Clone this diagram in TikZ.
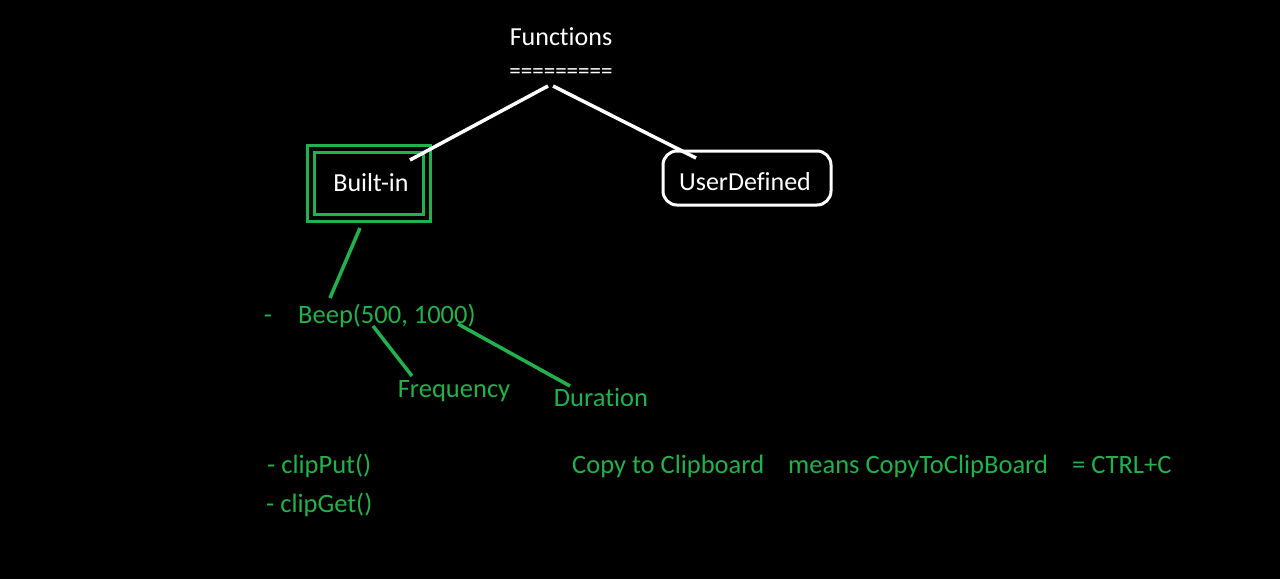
\documentclass[tikz,border=0pt]{standalone}
\usepackage{fontspec}
\setmainfont{Carlito}[Ligatures=CommonOff]
\definecolor{pgreen}{RGB}{34,177,76}
\begin{document}
\begin{tikzpicture}[x=1pt,y=-1pt,
  wtxt/.style={text=white,font=\fontsize{26}{30}\selectfont,inner sep=0pt,anchor=base},
  gtxt/.style={text=pgreen,font=\fontsize{26.5}{30}\selectfont,inner sep=0pt,anchor=base},
  wline/.style={draw=white,line width=3.5pt},
  gline/.style={draw=pgreen,line width=3.5pt}]
\fill[black] (0,0) rectangle (1280,579);
\useasboundingbox (0,0) rectangle (1280,579);
% titles
\node[wtxt] (fun) at (561,45) {Functions};
\node[wtxt,font=\fontsize{23}{26}\selectfont] (eq) at (561,78) {=========};
% built-in double box
\draw[pgreen,line width=3pt] (307,145) rectangle (430,221);
\draw[pgreen,line width=3pt] (314,152) rectangle (423,214);
\node[wtxt] (bi) at (371,191) {Built-in};
% user defined
\node[draw=white,line width=3pt,rounded corners=14pt,minimum width=168pt,minimum height=54pt] (ud) at (747,178) {};
\node[wtxt] (udt) at (745,190) {UserDefined};
% connector coordinates
\coordinate (t1) at (548,86);
\coordinate (t2) at (553,86);
\coordinate (b1) at (410,160);
\coordinate (u1) at (696,158);
\draw[wline] (t1) -- (b1);
\draw[wline] (t2) -- (u1);
% beep
\node[gtxt] (dash) at (268,323) {-};
\node[gtxt,anchor=base west] (beep) at (298,323) {Beep(500, 1000)};
\coordinate (bb) at (360,228);
\coordinate (be) at (330,298);
\draw[gline] (bb) -- (be);
\node[gtxt] (freq) at (454,397) {Frequency};
\node[gtxt] (dur) at (601,406) {Duration};
\coordinate (f1) at (373,326);
\coordinate (f2) at (412,376);
\coordinate (d1) at (458,324);
\coordinate (d2) at (570,386);
\draw[gline] (f1) -- (f2);
\draw[gline] (d1) -- (d2);
% clip
\node[gtxt,anchor=base west] (cput) at (267,473) {- clipPut()};
\node[gtxt,anchor=base west] (cget) at (266,512) {- clipGet()};
\node[gtxt,anchor=base west] (c1) at (572,473) {Copy to Clipboard};
\node[gtxt,anchor=base west] (c2) at (788,473) {means CopyToClipBoard};
\node[gtxt,anchor=base west] (c3) at (1072,473) {= CTRL+C};
\end{tikzpicture}
\end{document}
